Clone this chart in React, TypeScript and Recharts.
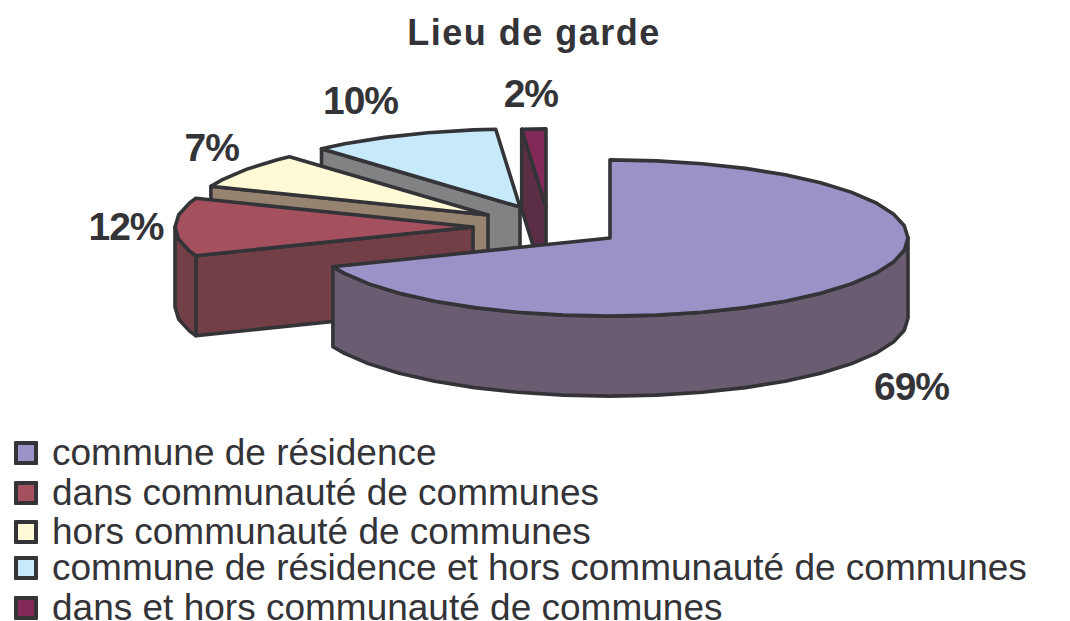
import React from "react";
import { PieChart, Pie, Legend } from "recharts";

const categories = [
  "commune de résidence",
  "dans communauté de communes",
  "hors communauté de communes",
  "commune de résidence et hors communauté de communes",
  "dans et hors communauté de communes",
];
const sliceValues = [69, 12, 7.4, 10.3, 1.3];
const percentLabels = ["69%", "12%", "7%", "10%", "2%"];
const topColors = ["#9B93C8", "#A5505F", "#FFFAD6", "#C6EAFA", "#83295A"];
const sideColors = ["#6A5D72", "#733F47", "#968470", "#808284", "#5C2E45"];

const INK = "#333338";
const SQUASH = 0.262;
const DEPTH = 80;
const STEP = 9;
const FONT = '"Liberation Sans", Arial, sans-serif';
// displacement of each exploded slice from the pie centre
const explode = [[0, 0], [-137, -11], [-122, -23], [-90, -31], [-64, -31]];
const labelNudge = [[55, 105], [-49, -1], [-32, -23], [-42, -35], [-3, -35]];
const legendRows = [453, 493, 532, 568, 608];

// drawn back to front, going counter-clockwise from the top
const table = categories
  .map((name, i) => ({ name, value: sliceValues[i], fill: topColors[i] }))
  .reverse();

const rad = (d: number) => (d * Math.PI) / 180;

function rim(cx: number, cy: number, r: number, a: number, b: number) {
  const pts: number[][] = [];
  const at = (d: number) => [cx + r * Math.cos(rad(d)), cy - r * SQUASH * Math.sin(rad(d))];
  pts.push(at(a));
  for (let d = Math.ceil(a / STEP + 0.01) * STEP; d < b; d += STEP) pts.push(at(d));
  pts.push(at(b));
  return pts;
}
const path = (pts: number[][]) =>
  "M" + pts.map((p) => `${p[0].toFixed(1)},${p[1].toFixed(1)}`).join("L") + "Z";

function Slice3D(props: any) {
  const i = categories.indexOf(props.name);
  const s = Math.min(props.startAngle, props.endAngle);
  const e = Math.max(props.startAngle, props.endAngle);
  const cx = props.cx + explode[i][0];
  const cy = props.cy + explode[i][1];
  const r = props.outerRadius;
  const edge = rim(cx, cy, r, s, e);
  const last = edge[edge.length - 1];
  const common = { stroke: INK, strokeWidth: 3.6, strokeLinejoin: "round" as const };
  const parts: React.ReactNode[] = [];
  if (last[0] < cx - 1) {
    parts.push(
      <path key="radial" {...common} fill={sideColors[i]}
        d={path([[cx, cy], last, [last[0], last[1] + DEPTH], [cx, cy + DEPTH]])} />
    );
  }
  const from = Math.max(s, 180);
  const to = Math.min(e, 360);
  if (to > from) {
    const front = rim(cx, cy, r, from, to);
    const low = front.map((p) => [p[0], p[1] + DEPTH]).reverse();
    parts.push(<path key="outer" {...common} fill={sideColors[i]} d={path([...front, ...low])} />);
  }
  parts.push(<path key="top" {...common} fill={topColors[i]} d={path([[cx, cy], ...edge])} />);
  return <g>{parts}</g>;
}

function SliceLabel(props: any) {
  const i = categories.indexOf(props.name);
  const a = rad(props.midAngle);
  const x = props.cx + explode[i][0] + props.outerRadius * Math.cos(a) + labelNudge[i][0];
  const y = props.cy + explode[i][1] - props.outerRadius * SQUASH * Math.sin(a) + labelNudge[i][1];
  return (
    <text x={x} y={y} textAnchor="middle" dominantBaseline="central"
      fontFamily={FONT} fontWeight={700} fontSize={39} letterSpacing={-1} fill={INK}>
      {percentLabels[i]}
    </text>
  );
}

function LegendBlock() {
  return (
    <div>
      {categories.map((name, i) => (
        <div key={name} style={{ position: "absolute", left: 0, top: legendRows[i] - 20, height: 40, width: 1070 }}>
          <div style={{
            position: "absolute", left: 14, top: 8, width: 16, height: 16,
            background: topColors[i], border: `4px solid ${INK}`, borderRadius: 1,
          }} />
          <div style={{
            position: "absolute", left: 52, top: 0, lineHeight: "40px", fontSize: 37,
            fontFamily: FONT, color: INK, whiteSpace: "nowrap",
          }}>{name}</div>
        </div>
      ))}
    </div>
  );
}

export default function App() {
  return (
    <div style={{ position: "absolute", left: 0, top: 0, width: 1070, height: 621, background: "#fff" }}>
      <PieChart width={1070} height={621} margin={{ top: 0, right: 0, bottom: 0, left: 0 }}>
        <text x={534} y={45} textAnchor="middle" fontFamily={FONT} fontWeight={700}
          fontSize={36} letterSpacing={1.5} fill={INK}>Lieu de garde</text>
        <Pie
          data={table}
          dataKey="value"
          nameKey="name"
          cx={610}
          cy={238}
          innerRadius={0}
          outerRadius={298}
          startAngle={90}
          endAngle={450}
          paddingAngle={0}
          stroke={INK}
          isAnimationActive={false}
          labelLine={false}
          label={SliceLabel}
          shape={Slice3D}
        />
        <Legend content={<LegendBlock />} wrapperStyle={{ position: "absolute", left: 0, top: 0, width: 1070, height: 0, bottom: "auto" }} />
      </PieChart>
    </div>
  );
}
